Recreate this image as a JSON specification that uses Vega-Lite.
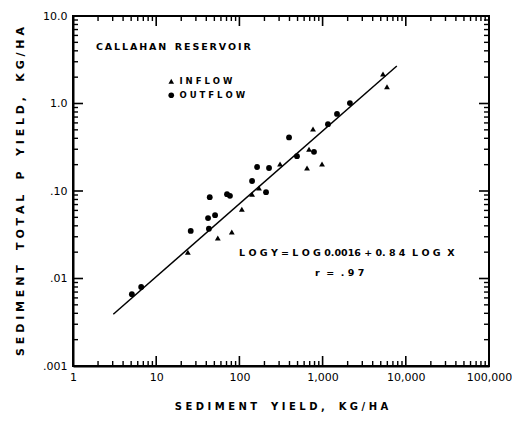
{
  "$schema": "https://vega.github.io/schema/vega-lite/v6.json",
  "width": 416,
  "height": 350,
  "autosize": {"type": "none"},
  "padding": {"left": 73, "top": 16, "right": 23, "bottom": 57},
  "background": "white",
  "config": {
    "view": {"stroke": "black", "strokeWidth": 2},
    "font": "DejaVu Sans",
    "axis": {
      "domainColor": "black",
      "domainWidth": 2,
      "ticks": false,
      "grid": false,
      "labelColor": "black",
      "labelFont": "DejaVu Sans",
      "labelFontSize": 11,
      "labelOverlap": false,
      "labelFlush": false,
      "labelBound": false,
      "titleColor": "black",
      "titleFont": "DejaVu Sans",
      "titleFontWeight": "bold"
    }
  },
  "datasets": {
    "points": [
      {"sediment": 5.1, "p": 0.0066, "type": "OUTFLOW"},
      {"sediment": 6.6, "p": 0.008, "type": "OUTFLOW"},
      {"sediment": 24, "p": 0.020, "type": "INFLOW"},
      {"sediment": 26, "p": 0.035, "type": "OUTFLOW"},
      {"sediment": 42, "p": 0.049, "type": "OUTFLOW"},
      {"sediment": 43, "p": 0.037, "type": "OUTFLOW"},
      {"sediment": 51, "p": 0.053, "type": "OUTFLOW"},
      {"sediment": 55, "p": 0.029, "type": "INFLOW"},
      {"sediment": 81, "p": 0.034, "type": "INFLOW"},
      {"sediment": 44, "p": 0.085, "type": "OUTFLOW"},
      {"sediment": 71, "p": 0.092, "type": "OUTFLOW"},
      {"sediment": 77, "p": 0.088, "type": "OUTFLOW"},
      {"sediment": 107, "p": 0.062, "type": "INFLOW"},
      {"sediment": 142, "p": 0.13, "type": "OUTFLOW"},
      {"sediment": 142, "p": 0.092, "type": "INFLOW"},
      {"sediment": 163, "p": 0.188, "type": "OUTFLOW"},
      {"sediment": 172, "p": 0.108, "type": "INFLOW"},
      {"sediment": 209, "p": 0.097, "type": "OUTFLOW"},
      {"sediment": 227, "p": 0.183, "type": "OUTFLOW"},
      {"sediment": 308, "p": 0.204, "type": "INFLOW"},
      {"sediment": 395, "p": 0.41, "type": "OUTFLOW"},
      {"sediment": 492, "p": 0.25, "type": "OUTFLOW"},
      {"sediment": 650, "p": 0.183, "type": "INFLOW"},
      {"sediment": 687, "p": 0.30, "type": "INFLOW"},
      {"sediment": 788, "p": 0.28, "type": "OUTFLOW"},
      {"sediment": 767, "p": 0.51, "type": "INFLOW"},
      {"sediment": 984, "p": 0.204, "type": "INFLOW"},
      {"sediment": 1160, "p": 0.58, "type": "OUTFLOW"},
      {"sediment": 1490, "p": 0.76, "type": "OUTFLOW"},
      {"sediment": 2130, "p": 1.01, "type": "OUTFLOW"},
      {"sediment": 5320, "p": 2.17, "type": "INFLOW"},
      {"sediment": 5940, "p": 1.55, "type": "INFLOW"}
    ],
    "fit": [
      {"sediment": 3.05, "p": 0.0039},
      {"sediment": 7800, "p": 2.68}
    ],
    "xmajor": [{"v": 10}, {"v": 100}, {"v": 1000}, {"v": 10000}],
    "xminor": [
      {"v": 2}, {"v": 3}, {"v": 4}, {"v": 5}, {"v": 6}, {"v": 7}, {"v": 8}, {"v": 9},
      {"v": 20}, {"v": 30}, {"v": 40}, {"v": 50}, {"v": 60}, {"v": 70}, {"v": 80}, {"v": 90},
      {"v": 200}, {"v": 300}, {"v": 400}, {"v": 500}, {"v": 600}, {"v": 700}, {"v": 800}, {"v": 900},
      {"v": 2000}, {"v": 3000}, {"v": 4000}, {"v": 5000}, {"v": 6000}, {"v": 7000}, {"v": 8000}, {"v": 9000},
      {"v": 20000}, {"v": 30000}, {"v": 40000}, {"v": 50000}, {"v": 60000}, {"v": 70000}, {"v": 80000}, {"v": 90000}
    ],
    "ymajor": [{"v": 0.01}, {"v": 0.1}, {"v": 1}],
    "yminor": [
      {"v": 0.002}, {"v": 0.003}, {"v": 0.004}, {"v": 0.005}, {"v": 0.006}, {"v": 0.007}, {"v": 0.008}, {"v": 0.009},
      {"v": 0.02}, {"v": 0.03}, {"v": 0.04}, {"v": 0.05}, {"v": 0.06}, {"v": 0.07}, {"v": 0.08}, {"v": 0.09},
      {"v": 0.2}, {"v": 0.3}, {"v": 0.4}, {"v": 0.5}, {"v": 0.6}, {"v": 0.7}, {"v": 0.8}, {"v": 0.9},
      {"v": 2}, {"v": 3}, {"v": 4}, {"v": 5}, {"v": 6}, {"v": 7}, {"v": 8}, {"v": 9}
    ]
  },
  "resolve": {"axis": {"x": "independent", "y": "independent"}},
  "layer": [
    {
      "data": {"name": "points"},
      "mark": {"type": "point", "filled": true, "opacity": 1, "size": 34},
      "encoding": {
        "x": {
          "field": "sediment", "type": "quantitative",
          "scale": {"type": "log", "domain": [1, 100000], "nice": false},
          "axis": {
            "orient": "bottom",
            "values": [1, 10, 100, 1000, 10000, 100000],
            "labelExpr": "datum.value == 1 ? '1' : datum.value == 10 ? '10' : datum.value == 100 ? '100' : datum.value == 1000 ? '1,000' : datum.value == 10000 ? '10,000' : '100,000'",
            "labelPadding": 5,
            "title": "S E D I M E N T\u00a0\u00a0\u00a0\u00a0Y I E L D ,\u00a0\u00a0\u00a0\u00a0K G / H A",
            "titleFontSize": 10,
            "titlePadding": 19
          }
        },
        "y": {
          "field": "p", "type": "quantitative",
          "scale": {"type": "log", "domain": [0.001, 10], "nice": false},
          "axis": {
            "orient": "left",
            "values": [0.001, 0.01, 0.1, 1, 10],
            "labelExpr": "datum.value == 10 ? '10.0' : datum.value == 1 ? '1.0' : datum.value == 0.1 ? '.10' : datum.value == 0.01 ? '.01' : '.001'",
            "labelPadding": 6,
            "title": "S E D I M E N T\u00a0\u00a0\u00a0\u00a0T O T A L\u00a0\u00a0\u00a0\u00a0P\u00a0\u00a0\u00a0\u00a0Y I E L D ,\u00a0\u00a0\u00a0\u00a0K G / H A",
            "titleFontSize": 11,
            "titlePadding": 17
          }
        },
        "shape": {
          "field": "type", "type": "nominal",
          "scale": {"domain": ["INFLOW", "OUTFLOW"], "range": ["triangle-up", "circle"]},
          "legend": {
            "orient": "none", "legendX": 94, "legendY": 61, "title": null,
            "padding": 0, "rowPadding": 5, "symbolSize": 32,
            "symbolFillColor": "black", "symbolStrokeColor": "black", "symbolStrokeWidth": 0,
            "labelFont": "DejaVu Sans", "labelFontSize": 8.5, "labelFontWeight": "bold", "labelColor": "black",
            "labelExpr": "datum.label == 'INFLOW' ? 'I N F L O W' : 'O U T F L O W'"
          }
        },
        "color": {"value": "black"}
      }
    },
    {
      "data": {"name": "fit"},
      "mark": {"type": "line", "color": "black", "strokeWidth": 1.5},
      "encoding": {
        "x": {"field": "sediment", "type": "quantitative", "axis": null},
        "y": {"field": "p", "type": "quantitative", "axis": null}
      }
    },
    {
      "data": {"name": "xmajor"},
      "mark": {"type": "tick", "orient": "vertical", "color": "black", "opacity": 1, "size": 10, "thickness": 1.6, "yOffset": -5},
      "encoding": {
        "x": {"field": "v", "type": "quantitative", "axis": null},
        "y": {"datum": 0.001, "type": "quantitative", "axis": null}
      }
    },
    {
      "data": {"name": "xmajor"},
      "mark": {"type": "tick", "orient": "vertical", "color": "black", "opacity": 1, "size": 10, "thickness": 1.6, "yOffset": 5},
      "encoding": {
        "x": {"field": "v", "type": "quantitative", "axis": null},
        "y": {"datum": 10, "type": "quantitative", "axis": null}
      }
    },
    {
      "data": {"name": "xminor"},
      "mark": {"type": "tick", "orient": "vertical", "color": "black", "opacity": 1, "size": 5, "thickness": 1.4, "yOffset": -2.5},
      "encoding": {
        "x": {"field": "v", "type": "quantitative", "axis": null},
        "y": {"datum": 0.001, "type": "quantitative", "axis": null}
      }
    },
    {
      "data": {"name": "xminor"},
      "mark": {"type": "tick", "orient": "vertical", "color": "black", "opacity": 1, "size": 5, "thickness": 1.4, "yOffset": 2.5},
      "encoding": {
        "x": {"field": "v", "type": "quantitative", "axis": null},
        "y": {"datum": 10, "type": "quantitative", "axis": null}
      }
    },
    {
      "data": {"name": "ymajor"},
      "mark": {"type": "tick", "orient": "horizontal", "color": "black", "opacity": 1, "size": 10, "thickness": 1.6, "xOffset": 5},
      "encoding": {
        "y": {"field": "v", "type": "quantitative", "axis": null},
        "x": {"datum": 1, "type": "quantitative", "axis": null}
      }
    },
    {
      "data": {"name": "ymajor"},
      "mark": {"type": "tick", "orient": "horizontal", "color": "black", "opacity": 1, "size": 10, "thickness": 1.6, "xOffset": -5},
      "encoding": {
        "y": {"field": "v", "type": "quantitative", "axis": null},
        "x": {"datum": 100000, "type": "quantitative", "axis": null}
      }
    },
    {
      "data": {"name": "yminor"},
      "mark": {"type": "tick", "orient": "horizontal", "color": "black", "opacity": 1, "size": 5, "thickness": 1.4, "xOffset": 2.5},
      "encoding": {
        "y": {"field": "v", "type": "quantitative", "axis": null},
        "x": {"datum": 1, "type": "quantitative", "axis": null}
      }
    },
    {
      "data": {"name": "yminor"},
      "mark": {"type": "tick", "orient": "horizontal", "color": "black", "opacity": 1, "size": 5, "thickness": 1.4, "xOffset": -2.5},
      "encoding": {
        "y": {"field": "v", "type": "quantitative", "axis": null},
        "x": {"datum": 100000, "type": "quantitative", "axis": null}
      }
    },
    {
      "data": {"values": [{}]},
      "mark": {"type": "text", "align": "left", "baseline": "middle", "font": "DejaVu Sans", "fontSize": 9.5, "fontWeight": "bold", "color": "black"},
      "encoding": {
        "x": {"datum": 1.89, "type": "quantitative", "axis": null},
        "y": {"datum": 4.4, "type": "quantitative", "axis": null},
        "text": {"value": "C\u2009A\u2009L\u2009L\u2009A\u2009H\u2009A\u2009N\u2009\u00a0\u00a0R\u2009E\u2009S\u2009E\u2009R\u2009V\u2009O\u2009I\u2009R"}
      }
    },
    {
      "data": {"values": [{}]},
      "mark": {"type": "text", "align": "left", "baseline": "middle", "font": "DejaVu Sans", "fontSize": 9.5, "fontWeight": "bold", "color": "black"},
      "encoding": {
        "x": {"datum": 99, "type": "quantitative", "axis": null},
        "y": {"datum": 0.0194, "type": "quantitative", "axis": null},
        "text": {"value": "L O G  Y  =  L O G  0.0016  +  0. 8 4\u00a0\u00a0L O G\u00a0 X"}
      }
    },
    {
      "data": {"values": [{}]},
      "mark": {"type": "text", "align": "center", "baseline": "middle", "font": "DejaVu Sans", "fontSize": 9.5, "fontWeight": "bold", "color": "black"},
      "encoding": {
        "x": {"datum": 1600, "type": "quantitative", "axis": null},
        "y": {"datum": 0.0117, "type": "quantitative", "axis": null},
        "text": {"value": "r\u00a0\u00a0=\u00a0\u00a0. 9 7"}
      }
    }
  ]
}
